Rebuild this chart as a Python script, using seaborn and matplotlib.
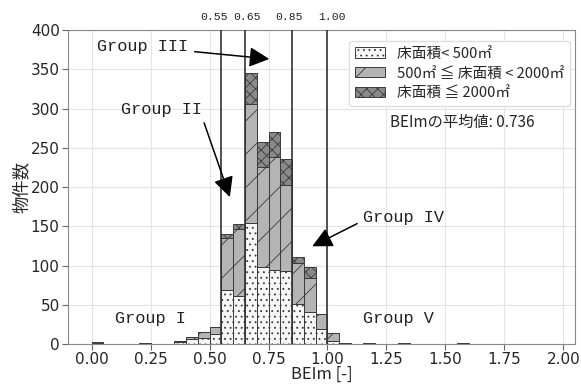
import numpy as np
import pandas as pd
import seaborn as sns
import matplotlib
matplotlib.use("Agg")
import matplotlib.pyplot as plt
import matplotlib.patches as mpatches

# ::. (counts per 0.05-wide BEIm bin, 0.00 - 2.00) ::.
bin_edges = np.round(np.arange(0, 2.0001, 0.05), 2)
small = [1, 0, 0, 0, 0, 0, 0, 3, 6, 8, 13, 69, 61, 154, 98, 95, 93, 51, 41, 19,
         4, 0, 0, 0, 0, 0, 0, 0, 0, 0, 0, 0, 0, 0, 0, 0, 0, 0, 0, 0]
medium = [1, 0, 0, 0, 1, 0, 0, 1, 3, 7, 9, 66, 86, 152, 128, 143, 110, 52, 43, 19,
          10, 1, 0, 1, 0, 0, 1, 0, 0, 0, 0, 1, 0, 0, 0, 0, 0, 0, 0, 0]
large = [1, 0, 0, 0, 0, 0, 0, 0, 0, 0, 0, 5, 6, 39, 31, 32, 33, 8, 14, 0,
         0, 0, 0, 0, 0, 0, 0, 0, 0, 0, 0, 0, 0, 0, 0, 0, 0, 0, 0, 0]
groups = ["床面積< 500㎡", "500㎡ ≦ 床面積 < 2000㎡", "床面積 ≦ 2000㎡"]
thresholds = [0.55, 0.65, 0.85, 1.00]
threshold_labels = ["0.55", "0.65", "0.85", "1.00"]
mean_beim = 0.736

# .:: Long-form table ::.
centers = (bin_edges[:-1] + bin_edges[1:]) / 2
df = pd.concat([
    pd.DataFrame({"BEIm": centers, "count": vals, "group": g})
    for g, vals in zip(groups, [small, medium, large])
], ignore_index=True)

colors = {groups[0]: "#f6f6f6", groups[1]: "#b4b4b4", groups[2]: "#8a8a8a"}
hatches = {groups[0]: "...", groups[1]: "/", groups[2]: "xxx"}
cjk = ["Noto Sans CJK JP", "DejaVu Sans"]

# .:: Plot ::.
sns.set_style("whitegrid")
plt.rcParams["font.family"] = ["DejaVu Sans", "Noto Sans CJK JP"]
plt.rcParams["hatch.linewidth"] = 0.6

fig = plt.figure(figsize=(5.81, 3.87), dpi=100)
ax = fig.add_axes([0.117, 0.111, 0.873, 0.811])

# seaborn stacks the first hue level on top, so reverse to keep small floors at the bottom
sns.histplot(data=df, x="BEIm", weights="count", hue="group", hue_order=groups[::-1],
             multiple="stack", binwidth=0.05, binrange=(0, 2), palette=colors, alpha=1,
             edgecolor="#3a3a3a", linewidth=0.7, legend=False, ax=ax)

# hatch patterns by fill colour
rgb_to_group = {tuple(np.round(matplotlib.colors.to_rgb(c), 3)): g for g, c in colors.items()}
for p in ax.patches:
    key = tuple(np.round(p.get_facecolor()[:3], 3))
    if key in rgb_to_group:
        p.set_hatch(hatches[rgb_to_group[key]])

label_shift = [-0.03, 0.008, -0.013, 0.019]
for x, lab, dx in zip(thresholds, threshold_labels, label_shift):
    ax.axvline(x, color="#333333", lw=1.2, zorder=3)
    ax.text(x + dx, 1.025, lab, transform=ax.get_xaxis_transform(), ha="center", va="bottom",
            fontsize=8.2, family="Liberation Mono", color="#222222")

gfont = dict(fontsize=12.2, family="Liberation Mono", color="#222222")
arrow = dict(arrowstyle="-|>,head_length=1.0,head_width=0.5", color="black", lw=1.1)
ax.annotate("Group III", xy=(0.765, 363), xytext=(0.025, 379), va="center", **gfont,
            arrowprops=arrow)
ax.annotate("Group II", xy=(0.59, 184), xytext=(0.125, 299), va="center", **gfont,
            arrowprops=dict(arrow, relpos=(1.0, 0.0)))
ax.annotate("Group IV", xy=(0.925, 123), xytext=(1.15, 161), va="center", **gfont,
            arrowprops=dict(arrow, relpos=(0.0, 0.3)))
ax.text(0.10, 33, "Group I", va="center", **gfont)
ax.text(1.15, 33, "Group V", va="center", **gfont)

handles = [mpatches.Patch(facecolor=colors[g], edgecolor="#3a3a3a", hatch=hatches[g],
                          linewidth=0.7, label=g) for g in groups]
ax.legend(handles=handles, loc="upper right", bbox_to_anchor=(1.005, 0.99),
          prop={"family": cjk, "size": 10.6},
          handlelength=2.1, handleheight=0.7, labelspacing=0.4, framealpha=1,
          edgecolor="#dddddd", fancybox=True, borderpad=0.4)
ax.text(1.571, 283, f"BEImの平均値: {mean_beim}", ha="center", va="center",
        fontsize=11, family=cjk)

ax.set_xlim(-0.1, 2.05)
ax.set_ylim(0, 400)
ax.set_xticks(np.arange(0, 2.01, 0.25))
ax.set_yticks(np.arange(0, 401, 50))
ax.tick_params(axis="both", labelsize=11, length=4, color="#666666", bottom=True, left=True, pad=2)
ax.set_xlabel("BEIm [-]", fontsize=12, family=cjk, labelpad=-1)
ax.set_ylabel("物件数", fontsize=12.5, family=cjk, labelpad=0)
for s in ax.spines.values():
    s.set_color("#888888")
ax.grid(color="#e4e4e4", lw=0.8)

fig.savefig("out.png", dpi=100)
